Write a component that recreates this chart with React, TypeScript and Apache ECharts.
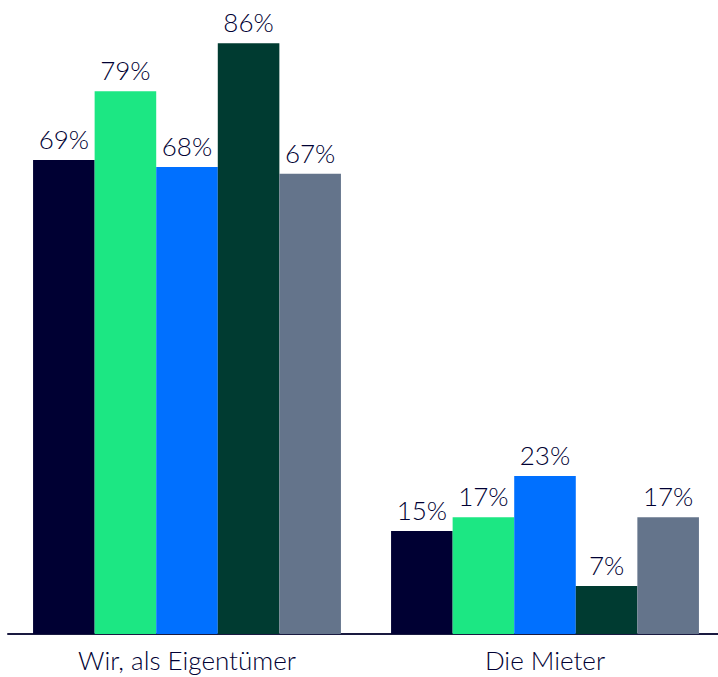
import React, { useEffect, useRef } from "react";
import * as echarts from "echarts";

const categories = ["Wir, als Eigentümer", "Die Mieter"];
const seriesA = [69, 15];
const seriesB = [79, 17];
const seriesC = [68, 23];
const seriesD = [86, 7];
const seriesE = [67, 17];
const colors = ["#000033", "#1ce783", "#0070ff", "#003b31", "#64748b"];

export default function App() {
  const ref = useRef<HTMLDivElement>(null);
  useEffect(() => {
    if (!ref.current) return;
    const chart = echarts.init(ref.current, null, { renderer: "svg" });
    const data = [seriesA, seriesB, seriesC, seriesD, seriesE];
    chart.setOption({
      animation: false,
      grid: { left: 8, top: 0, right: 0, height: 634, containLabel: false },
      xAxis: {
        type: "category",
        data: categories,
        axisTick: { show: false },
        axisLine: { lineStyle: { color: "#1a1a40", width: 2 } },
        axisLabel: {
          color: "#000033",
          fontSize: 26,
          fontFamily: "Lato",
          fontWeight: 300,
          margin: 13,
        },
      },
      yAxis: {
        type: "value",
        min: 0,
        max: 92.3,
        show: false,
        splitLine: { show: false },
      },
      series: data.map((d, i) => ({
        type: "bar",
        data: d,
        barCategoryGap: "14%",
        barGap: "0%",
        itemStyle: { color: colors[i] },
        label: {
          show: true,
          position: "top",
          distance: 8,
          formatter: "{c}%",
          color: "#000033",
          fontSize: 26,
          fontFamily: "Lato",
          fontWeight: 300,
        },
      })),
    });
    return () => chart.dispose();
  }, []);
  return (
    <div style={{ width: 718, height: 677, position: "absolute", left: 0, top: 0, overflow: "hidden" }}>
      <div ref={ref} style={{ width: 724, height: 677 }} />
    </div>
  );
}
